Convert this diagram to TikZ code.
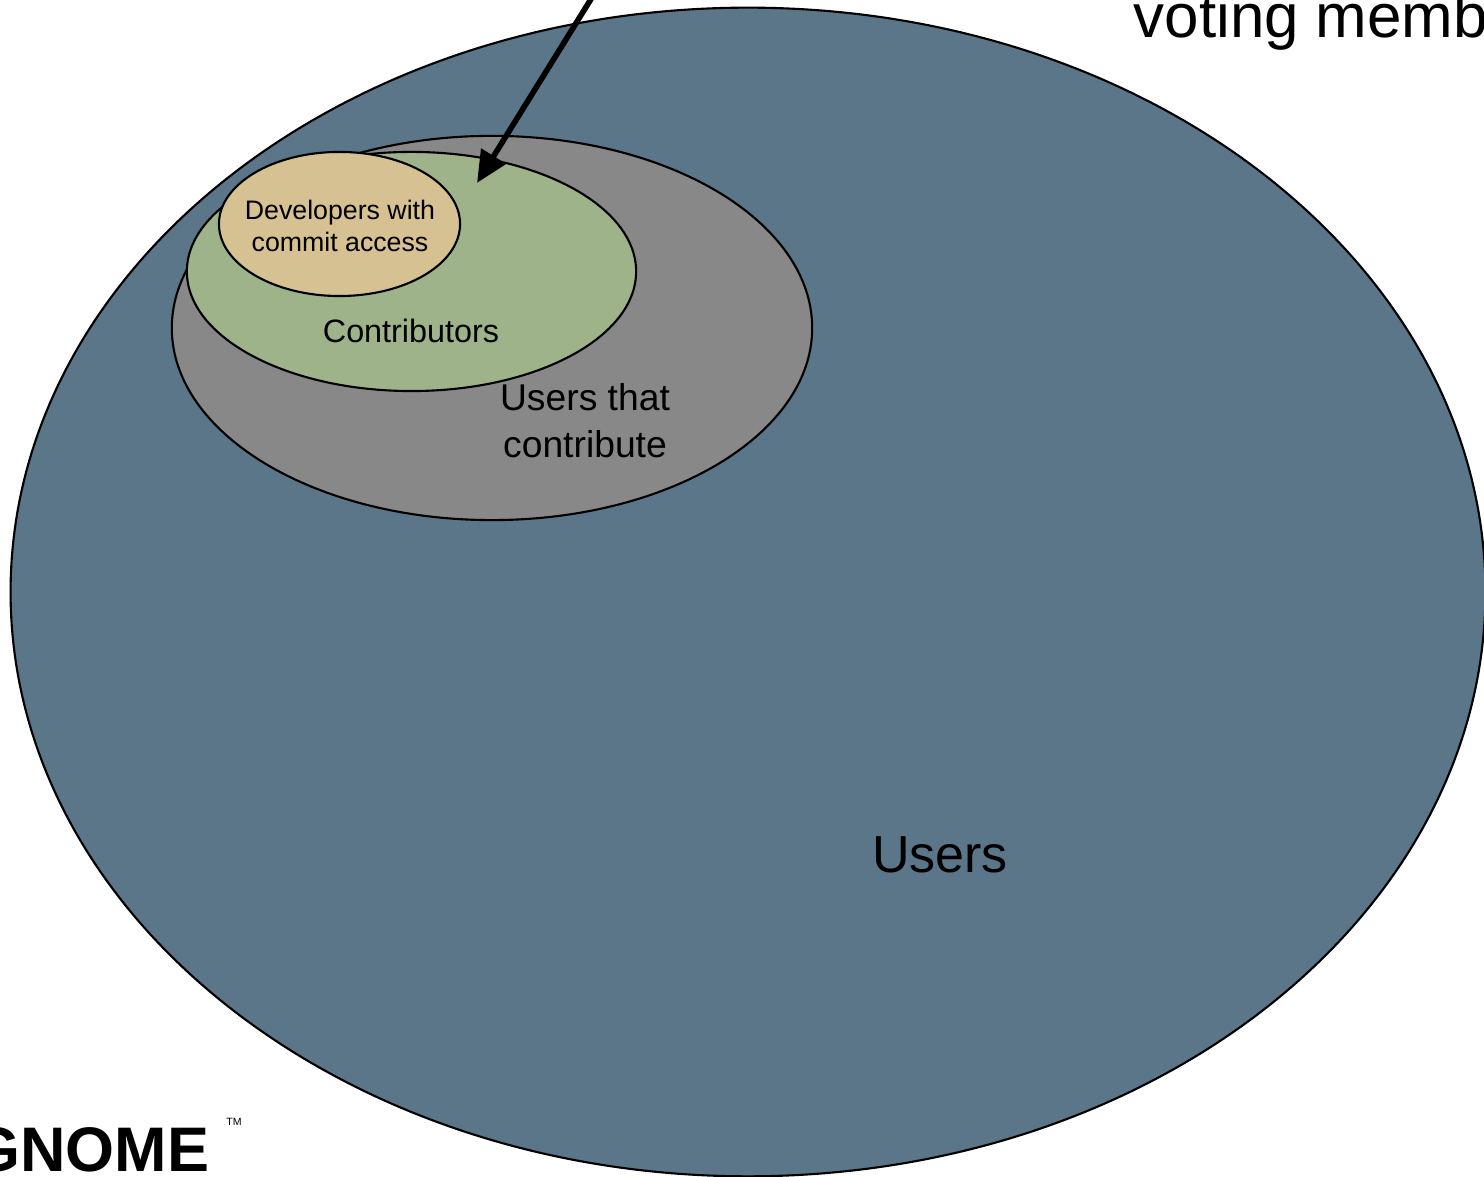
\documentclass[tikz,border=0pt]{standalone}
\usepackage{fontspec}
\setmainfont{Liberation Sans}
\usetikzlibrary{shapes.geometric,arrows.meta}

\definecolor{userblue}{HTML}{5B7589}
\definecolor{contribgray}{HTML}{888888}
\definecolor{contribgreen}{HTML}{9FB38A}
\definecolor{devtan}{HTML}{D6C192}

\tikzset{
  set/.style={ellipse,draw=black,line width=0.6pt,inner sep=0pt},
  pointer/.style={line width=1.6pt,-{Triangle[length=9pt,width=8pt]}}
}

\begin{document}
\begin{tikzpicture}[x=0.01cm,y=-0.01cm]
  \useasboundingbox (0,0) rectangle (1484,1177);
  \fill[white] (0,0) rectangle (1484,1177);
  \clip (0,0) rectangle (1484,1177);
  % the sets, biggest first
  \node[set,fill=userblue,minimum width=14.74cm,minimum height=11.68cm] (users) at (748,592) {};
  \node[set,fill=contribgray,minimum width=6.40cm,minimum height=3.84cm] (ucontrib) at (492,328) {};
  \node[set,fill=contribgreen,minimum width=4.49cm,minimum height=2.39cm] (contrib) at (411.5,271.5) {};
  \node[set,fill=devtan,minimum width=2.41cm,minimum height=1.44cm] (devs) at (339.5,224) {};
  % labels
  \node[align=center,font=\fontsize{7.6}{9.1}\selectfont] (devslbl) at (340,226) {Developers with\\commit access};
  \node[font=\fontsize{9.2}{11}\selectfont] (contriblbl) at (411,331) {Contributors};
  \node[align=center,font=\fontsize{10.6}{13.4}\selectfont] (ucontriblbl) at (585,421) {Users that\\ contribute};
  \node[font=\fontsize{14.8}{17}\selectfont] (userslbl) at (940,855) {Users};
  \node[anchor=base west,inner sep=0pt,font=\fontsize{17.6}{20}\selectfont] (voting) at (1133,38) {voting members};
  % arrow from the text above
  \coordinate (vtail) at (609,-30);
  \coordinate (vtip) at (477,183);
  \draw[pointer] (vtail) -- (vtip);
  % logo
  \node[anchor=base east,inner sep=0pt,font=\fontsize{17.9}{20}\bfseries] (gnome) at (210,1172) {GNOME};
  \node[inner sep=0pt,font=\fontsize{3}{3}\selectfont] (tm) at (234,1122) {TM};
\end{tikzpicture}
\end{document}
